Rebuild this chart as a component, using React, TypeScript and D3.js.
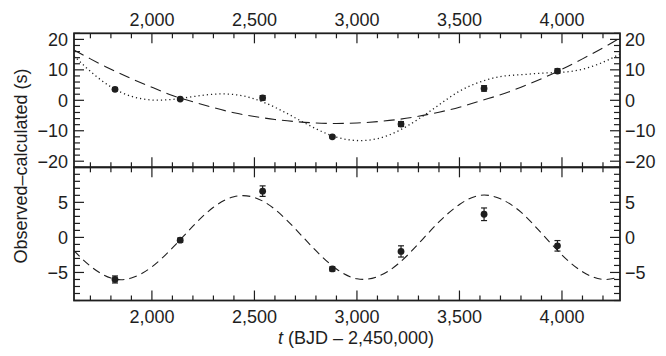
import * as d3 from "d3"

// observed timings, t in BJD - 2,450,000
const tObs = [1820, 2138, 2540, 2880, 3215, 3620, 3978]
const ocTop = [3.6, 0.4, 0.8, -12.0, -7.8, 3.9, 9.6]
const ocBottom = [-6.0, -0.4, 6.6, -4.5, -2.0, 3.3, -1.2]
const ocErr = [0.5, 0.3, 0.75, 0.3, 0.8, 0.9, 0.75]

// model curves
const tModel = [1620, 1700, 1800, 1900, 2000, 2100, 2200, 2300, 2400, 2500, 2600, 2700, 2800, 2900, 3000,
  3100, 3200, 3300, 3400, 3500, 3600, 3700, 3800, 3900, 4000, 4100, 4200, 4283]
const quadFit = [16.5, 13.6, 10.2, 7.1, 4.3, 1.6, -0.5, -2.4, -4.1, -5.3, -6.3, -7.0, -7.45, -7.6, -7.45,
  -7.0, -6.3, -5.25, -3.9, -2.3, -0.2, 1.8, 4.3, 7.1, 10.2, 13.6, 17.2, 20.5]
const fullFit = [14.6, 9.5, 4.4, 1.3, 0.1, 0.3, 1.2, 2.0, 1.9, 0.45, -2.3, -5.8, -9.35, -12.1, -13.2,
  -12.6, -10.1, -6.15, -1.5, 3.0, 6.0, 7.8, 8.4, 8.9, 9.2, 10.2, 12.5, 15.2]
const sineFit = [-1.9, -4.1, -5.8, -5.8, -4.2, -1.5, 1.6, 4.3, 5.8, 5.7, 4.0, 1.2, -1.9, -4.5, -5.9,
  -5.6, -3.8, -0.9, 2.2, 4.7, 6.0, 5.5, 3.6, 0.6, -2.5, -4.9, -6.0, -5.6]

const xMajor = [2000, 2500, 3000, 3500, 4000]
const topMajor = [-20, -10, 0, 10, 20]
const botMajor = [-5, 0, 5]

const INK = "#1e1e1e"
const FONT = "'Liberation Sans', Arial, Helvetica, sans-serif"

export default function App() {
  const L = 74, R = 620, T = 33.3, MID = 167.3, B = 300.5
  const x = d3.scaleLinear().domain([1620, 4283]).range([L, R])
  const yTop = d3.scaleLinear().domain([-22, 22]).range([MID, T])
  const yBot = d3.scaleLinear().domain([-9, 10]).range([B, MID])
  const fmt = d3.format(",")

  const xMinor = d3.range(1700, 4283, 100).filter(v => v % 500 !== 0)
  const topMinor = d3.range(-22, 23, 2).filter(v => v % 10 !== 0)
  const botMinor = d3.range(-9, 11, 1).filter(v => v % 5 !== 0)

  const lineTop = (vals: number[]) =>
    d3.line<number>().x((_, i) => x(tModel[i])).y(d => yTop(d)).curve(d3.curveNatural)(vals) || ""
  const lineBot = d3.line<number>().x((_, i) => x(tModel[i])).y(d => yBot(d)).curve(d3.curveNatural)

  const xTicks = (y0: number, dir: number) => (
    <g stroke={INK} strokeWidth={1.2}>
      {xMajor.map(v => <line key={"M" + v} x1={x(v)} x2={x(v)} y1={y0} y2={y0 + dir * 10} />)}
      {xMinor.map(v => <line key={"m" + v} x1={x(v)} x2={x(v)} y1={y0} y2={y0 + dir * 5} />)}
    </g>
  )
  const yTicks = (scale: d3.ScaleLinear<number, number>, major: number[], minor: number[]) => (
    <g stroke={INK} strokeWidth={1.2}>
      {major.map(v => <g key={"M" + v}>
        <line x1={L} x2={L + 10} y1={scale(v)} y2={scale(v)} />
        <line x1={R} x2={R - 10} y1={scale(v)} y2={scale(v)} />
      </g>)}
      {minor.map(v => <g key={"m" + v}>
        <line x1={L} x2={L + 6} y1={scale(v)} y2={scale(v)} />
        <line x1={R} x2={R - 6} y1={scale(v)} y2={scale(v)} />
      </g>)}
    </g>
  )
  const yLabels = (scale: d3.ScaleLinear<number, number>, major: number[]) => (
    <g fontSize={18} fill={INK}>
      {major.map(v => <g key={v}>
        <text x={L - 6} y={scale(v)} dy="0.36em" textAnchor="end">{v < 0 ? "\u2212" + Math.abs(v) : v}</text>
        <text x={R + 5} y={scale(v)} dy="0.36em" textAnchor="start">{v < 0 ? "\u2212" + Math.abs(v) : v}</text>
      </g>)}
    </g>
  )
  const points = (scale: d3.ScaleLinear<number, number>, vals: number[]) => (
    <g fill={INK} stroke={INK} strokeWidth={1.2}>
      {tObs.map((t, i) => {
        const cx = x(t), y1 = scale(vals[i] + ocErr[i]), y2 = scale(vals[i] - ocErr[i])
        return <g key={t}>
          <line x1={cx} x2={cx} y1={y1} y2={y2} />
          <line x1={cx - 3} x2={cx + 3} y1={y1} y2={y1} />
          <line x1={cx - 3} x2={cx + 3} y1={y2} y2={y2} />
          <circle cx={cx} cy={scale(vals[i])} r={3.4} stroke="none" />
        </g>
      })}
    </g>
  )

  return (
    <svg width={666} height={356} style={{ position: "absolute", left: 0, top: 0, background: "#fff" }}
      fontFamily={FONT}>
      <defs>
        <clipPath id="cTop"><rect x={L} y={T} width={R - L} height={MID - T} /></clipPath>
        <clipPath id="cBot"><rect x={L} y={MID} width={R - L} height={B - MID} /></clipPath>
      </defs>

      <g clipPath="url(#cTop)" fill="none" stroke={INK}>
        <path d={lineTop(quadFit)} strokeWidth={1.1} strokeDasharray="11 6" />
        <path d={lineTop(fullFit)} strokeWidth={1.3} strokeDasharray="1.2 3" />
      </g>
      <g clipPath="url(#cBot)" fill="none" stroke={INK}>
        <path d={lineBot(sineFit) || ""} strokeWidth={1.1} strokeDasharray="8 5" />
      </g>

      {points(yTop, ocTop)}
      {points(yBot, ocBottom)}

      {xTicks(T, 1)}
      {xTicks(MID, -1)}
      {xTicks(MID, 1)}
      {xTicks(B, -1)}
      {yTicks(yTop, topMajor, topMinor)}
      {yTicks(yBot, botMajor, botMinor)}

      <g fill="none" stroke={INK} strokeWidth={1.8}>
        <rect x={L} y={T} width={R - L} height={MID - T} />
        <rect x={L} y={MID} width={R - L} height={B - MID} />
      </g>

      <g fontSize={18} fill={INK} textAnchor="middle">
        {xMajor.map(v => <text key={"t" + v} x={x(v)} y={26}>{fmt(v)}</text>)}
        {xMajor.map(v => <text key={"b" + v} x={x(v)} y={323}>{fmt(v)}</text>)}
      </g>
      {yLabels(yTop, topMajor)}
      {yLabels(yBot, botMajor)}

      <text x={356} y={344} fontSize={18} fill={INK} textAnchor="middle">
        <tspan fontStyle="italic">t</tspan> (BJD – 2,450,000)
      </text>
      <text transform="translate(27,166) rotate(-90)" fontSize={18} fill={INK} textAnchor="middle">
        Observed–calculated (s)
      </text>
    </svg>
  )
}
